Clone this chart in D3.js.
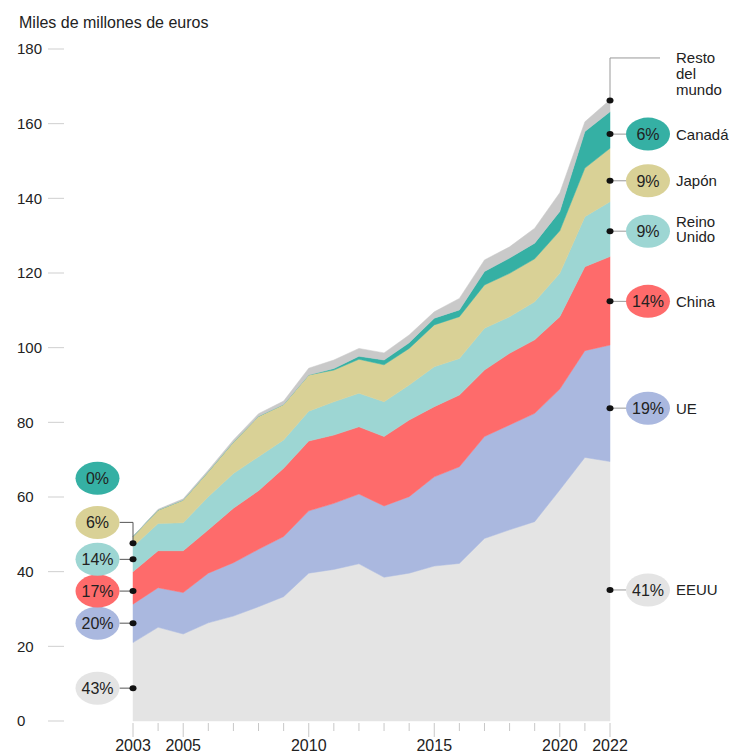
<!DOCTYPE html>
<html><head><meta charset="utf-8">
<script src="https://cdn.jsdelivr.net/npm/d3@7/dist/d3.min.js"></script>
<style>body{margin:0;background:#fff} text{font-family:"Liberation Sans",Arial,Helvetica,sans-serif;fill:#222}</style>
</head><body><svg id="c" width="729" height="754"></svg>
<script>
// ---- data (miles de millones de euros) ----
const years  = [2003,2004,2005,2006,2007,2008,2009,2010,2011,2012,2013,2014,2015,2016,2017,2018,2019,2020,2021,2022];
const eeuu   = [21.0,25.1,23.3,26.3,28.1,30.6,33.3,39.6,40.6,42.1,38.5,39.6,41.5,42.2,48.9,51.2,53.4,61.9,70.6,69.5];
const ue     = [10.3,10.6,11.1,13.3,14.3,15.4,16.1,16.7,17.7,18.7,19.1,20.5,23.9,25.9,27.3,28.1,29.0,27.0,28.6,31.2];
const china  = [ 8.7, 9.9,11.2,11.6,14.6,15.7,18.3,18.7,18.3,18.0,18.6,20.5,18.8,19.2,17.8,19.2,19.7,19.4,22.5,23.7];
const reino  = [ 6.7, 7.3, 7.5, 8.9, 9.3, 9.1, 7.6, 8.0, 8.9, 9.0, 9.3, 9.4,10.7, 9.8,11.2, 9.8,10.2,11.6,13.4,14.7];
const japon  = [ 2.7, 3.6, 6.1, 6.7, 8.4,10.8, 9.5, 9.7, 8.5, 9.1, 9.9, 9.8,11.2,11.2,11.6,11.6,11.5,11.4,13.0,14.3];
const canada = [ 0.0, 0.0, 0.0, 0.0, 0.0, 0.0, 0.0, 0.0, 0.4, 0.8, 1.3, 1.5, 1.8, 1.8, 3.6, 4.1, 4.2, 5.2, 9.8, 9.8];
const resto  = [ 0.0, 0.2, 0.3, 0.4, 0.6, 0.7, 0.9, 1.8, 2.3, 2.1, 1.9, 2.1, 1.7, 3.1, 3.1, 3.0, 4.0, 5.0, 2.6, 3.2];
const keys   = ["EEUU","UE","China","Reino Unido","Japón","Canadá","Resto del mundo"];
const yTicks = [0,20,40,60,80,100,120,140,160,180];
const xTickLabels = [2003,2005,2010,2015,2020,2022];
const title = "Miles de millones de euros";
// share labels, 2003 (left) and 2022 (right)
const leftPct     = ["43%","20%","17%","14%","6%","0%"];
const leftLabelAt = [8.8,26.2,34.8,43.3,53.2,65.0];
const leftDotAt   = [8.8,26.2,34.8,43.3,47.6,null];
const rightPct    = ["41%","19%","14%","9%","9%","6%",null];
const rightNames  = [["EEUU"],["UE"],["China"],["Reino","Unido"],["Japón"],["Canadá"],["Resto","del","mundo"]];
const rightAt     = [35.1,83.8,112.4,131.2,144.7,157.2,166.2];
const restoElbowAt = 177.6;

// ---- styles ----
const colors = ["#e4e4e4","#aab8df","#fe6b6b","#9dd6d3","#d9d196","#35b0a4","#c9c9c9"];

const svg = d3.select("#c");
const x = d3.scaleLinear().domain([2003,2022]).range([133,610]);
const y = d3.scaleLinear().domain([0,180]).range([721,49]);

const rows = years.map((yr,i)=>({year:yr,"EEUU":eeuu[i],"UE":ue[i],"China":china[i],"Reino Unido":reino[i],"Japón":japon[i],"Canadá":canada[i],"Resto del mundo":resto[i]}));
const stack = d3.stack().keys(keys)(rows);
const area = d3.area().x(d=>x(d.data.year)).y0(d=>y(d[0])).y1(d=>y(d[1])).curve(d3.curveLinear);

svg.append("g").selectAll("path").data(stack).join("path")
  .attr("d",area).attr("fill",(d,i)=>colors[i]).attr("stroke",(d,i)=>colors[i]).attr("stroke-width",0.5);

// title
svg.append("text").attr("x",19).attr("y",28).attr("font-size",16).text(title);

// y axis
const ya = svg.append("g");
ya.selectAll("line").data(yTicks).join("line")
  .attr("x1",48).attr("x2",64).attr("y1",d=>y(d)).attr("y2",d=>y(d)).attr("stroke","#cfcfcf");
ya.selectAll("text").data(yTicks).join("text")
  .attr("x",17).attr("y",d=>y(d)).attr("dy","0.36em").attr("font-size",15).text(d=>d);

// x axis
const xa = svg.append("g");
xa.selectAll("line").data(years).join("line")
  .attr("x1",d=>x(d)).attr("x2",d=>x(d))
  .attr("y1",723).attr("y2",d=>xTickLabels.includes(d)?737:731)
  .attr("stroke","#c8c8c8");
xa.selectAll("text").data(xTickLabels).join("text")
  .attr("x",d=>x(d)).attr("y",751).attr("text-anchor","middle").attr("font-size",16).text(d=>d);

// left annotations
const lx = x(2003), bubX = 97.5, rx = 22, ry = 16.5;
const la = svg.append("g");
leftPct.forEach((p,i)=>{
  const by = y(leftLabelAt[i]);
  if (leftDotAt[i] !== null) {
    const dy = y(leftDotAt[i]);
    la.append("path").attr("d",`M${bubX+rx},${by}H${lx}V${dy}`).attr("fill","none").attr("stroke","#555").attr("stroke-width",1);
    la.append("ellipse").attr("cx",lx).attr("cy",dy).attr("rx",3.5).attr("ry",3).attr("fill","#111");
  }
  la.append("ellipse").attr("cx",bubX).attr("cy",by).attr("rx",rx).attr("ry",ry).attr("fill",colors[i]);
  la.append("text").attr("x",bubX).attr("y",by).attr("dy","0.36em").attr("text-anchor","middle").attr("font-size",16).text(p);
});

// right annotations
const rxp = x(2022), rBubX = 648;
const ra = svg.append("g");
rightNames.forEach((names,i)=>{
  const dy = y(rightAt[i]);
  if (rightPct[i] !== null) {
    ra.append("line").attr("x1",rxp).attr("x2",rBubX-rx).attr("y1",dy).attr("y2",dy).attr("stroke","#999");
    ra.append("ellipse").attr("cx",rBubX).attr("cy",dy).attr("rx",rx).attr("ry",ry).attr("fill",colors[i]);
    ra.append("text").attr("x",rBubX).attr("y",dy).attr("dy","0.36em").attr("text-anchor","middle").attr("font-size",16).text(rightPct[i]);
    const lh = 15.5, n = names.length;
    names.forEach((nm,j)=>{
      ra.append("text").attr("x",676).attr("y",dy + (j-(n-1)/2)*lh - 2*(n-1)).attr("dy","0.36em").attr("font-size",15).text(nm);
    });
  } else {
    const ey = y(restoElbowAt);
    ra.append("path").attr("d",`M${rxp},${dy}V${ey}H660`).attr("fill","none").attr("stroke","#999");
    names.forEach((nm,j)=>{
      ra.append("text").attr("x",676).attr("y",ey + j*15.7).attr("dy","0.36em").attr("font-size",15).text(nm);
    });
  }
  ra.append("ellipse").attr("cx",rxp).attr("cy",dy).attr("rx",3.5).attr("ry",3).attr("fill","#111");
});
</script></body></html>
